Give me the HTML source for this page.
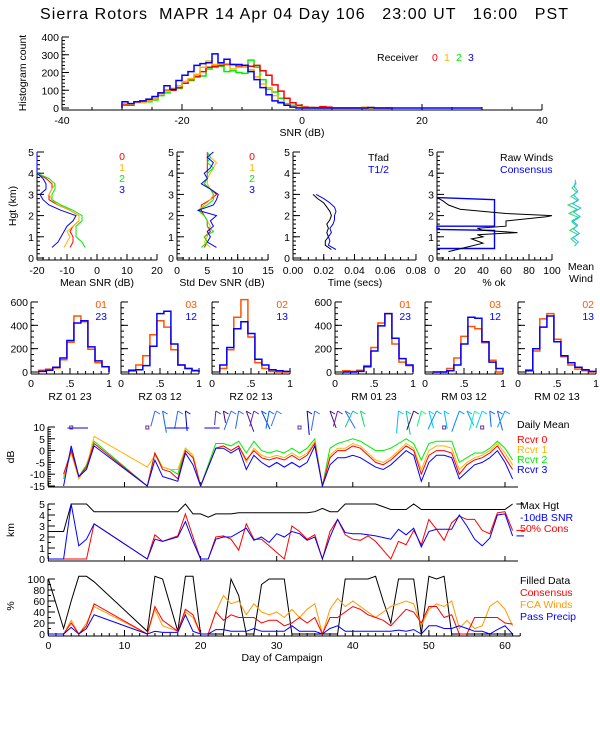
<!DOCTYPE html>
<html><head><meta charset="utf-8"><title>Sierra Rotors MAPR</title>
<style>
html,body{margin:0;padding:0;background:#fff;}
svg{display:block;font-family:"Liberation Sans",sans-serif;}
text{font-size:10.5px;}
</style></head>
<body>
<svg id="chart" width="600" height="750" viewBox="0 0 600 750" xmlns="http://www.w3.org/2000/svg">
<rect x="0" y="0" width="600" height="750" fill="#fff"/>
<text x="40" y="19" textLength="528" lengthAdjust="spacing" xml:space="preserve" style="font-size:16px">Sierra Rotors  MAPR 14 Apr 04 Day 106   23:00 UT   16:00   PST</text>
</svg>
<script>
// ---------- data: SNR histogram (bins -30..14 dB) ----------
const snrBins = [-30,-29,-28,-27,-26,-25,-24,-23,-22,-21,-20,-19,-18,-17,-16,-15,-14,-13,-12,-11,-10,-9,-8,-7,-6,-5,-4,-3,-2,-1,0,1,2,3,4,5,6,7,8,9,10,11,12,13,14];
const histR0 = [20,15,35,40,45,55,85,100,100,115,140,160,175,205,230,235,240,245,245,235,240,235,240,210,185,130,95,55,30,15,5,3,3,8,5,0,0,0,0,0,0,0,0,0,0];
const histR1 = [25,20,30,30,40,55,80,95,110,125,150,165,190,230,265,245,250,250,220,230,230,215,175,135,115,70,35,20,10,5,0,0,0,0,0,0,0,0,0,0,5,0,0,0,0];
const histR2 = [15,20,30,35,35,45,70,85,110,110,140,155,180,180,220,230,235,205,210,200,195,270,230,160,105,90,55,25,15,5,5,3,0,0,0,0,0,0,0,0,0,0,0,0,0];
const histR3 = [35,25,35,40,50,65,85,125,105,155,185,205,240,250,255,305,255,275,245,245,240,205,160,115,75,40,30,15,5,0,0,0,0,0,0,0,0,0,0,0,0,3,0,0,0];
const histTicks = [-40,-20,0,20,40];
const histYTicks = [0,100,200,300,400];

// ---------- data: profiles ----------
const profH = [0.5,0.75,1,1.25,1.5,1.75,2,2.25,2.5,2.75,3,3.25,3.5,3.75,4,4.25,4.5,4.75,5];
const snrMean0 = [-9,-8,-8,-9,-8,-6,-6,-9,-13,-16,-16,-15,-15,-17,-20,-20,-20,-20,-20];
const snrMean1 = [-11,-10,-9,-10,-8,-6,-6,-9,-13,-15,-16,-15,-14,-16,-20,-20,-20,-20,-20];
const snrMean2 = [-4,-5,-7,-7,-7,-5,-5,-8,-12,-15,-15,-14,-14,-16,-20,-20,-20,-20,-20];
const snrMean3 = [-15,-13,-12,-11,-10,-8,-7,-12,-16,-18,-19,-17,-17,-18,-20,-20,-20,-20,-20];
const snrStd0 = [4.5,5,4.5,5.5,5,5,4.5,4,4,5.5,6.5,5.5,4.5,5,5,5,5,5,5];
const snrStd1 = [5.5,4.5,5,5,5.5,5,4.5,3.5,4.5,5.5,6,5.5,5,5,5.5,6,6.5,5.5,5];
const snrStd2 = [4,5,4.5,6,5,5,4.5,3.5,5,6,6,5.5,4.5,5,5,6,5,5.5,5];
const snrStd3 = [6.5,5,5.5,5,6,5.5,6.5,3.5,6,6.5,6.8,5.5,4,5,4.5,5.5,6,5,6];
const timeH = [0.4,0.6,0.8,1.0,1.2,1.4,1.6,1.8,2.0,2.2,2.4,2.6,2.8,3.0];
const tfad = [0.025,0.021,0.021,0.023,0.022,0.023,0.022,0.024,0.025,0.024,0.022,0.020,0.016,0.013];
const thalf = [0.028,0.023,0.024,0.023,0.025,0.024,0.026,0.027,0.027,0.028,0.027,0.024,0.020,0.015];
const rawH = [0.3,0.5,0.7,0.9,1.0,1.1,1.2,1.3,1.4,1.5,1.75,1.95,2.0,2.1,2.3,2.5,2.7,2.85];
const rawOk = [10,25,40,30,40,35,70,40,35,60,60,95,100,60,20,10,5,0];
const consH = [0.45,0.45,1.3,1.35,1.5,1.5,2.75,2.85];
const consOk = [0,50,50,0,0,50,50,0];
const windH = [0.7,0.9,1.1,1.3,1.5,1.7,1.9,2.1,2.3,2.5,2.7,2.9,3.1,3.3,3.5,3.7];
const windU = [2,-3,4,-4,3,-2,5,-5,3,-6,4,-3,3,-2,2,1];

// ---------- data: ratio histograms (bins 0.1..1.0 width 0.09) ----------
const rBins = [0.1,0.19,0.28,0.37,0.46,0.55,0.64,0.73,0.82,0.91];
const rzA = [15,25,35,105,255,480,430,195,80,45];
const rzB = [5,15,40,120,270,420,440,215,95,45];
const rz03 = [20,60,140,320,440,385,190,60,30,15];
const rz12 = [10,20,55,220,500,520,240,60,30,10];
const rz02 = [30,190,470,620,300,80,30,5,0,0];
const rz13 = [60,210,370,430,330,110,60,20,10,5];
const rm01 = [10,5,15,55,210,420,500,240,85,55];
const rm23 = [0,0,5,45,180,395,500,290,115,60];
const rm03 = [0,0,30,120,305,390,370,250,100,0];
const rm12 = [0,0,10,60,240,470,460,260,85,30];
const rm02 = [20,180,455,500,280,130,60,25,10,0];
const rm13 = [10,200,385,480,260,140,80,40,20,5];

// ---------- data: campaign time series ----------
const snrDays = [2,3,4,5,6,13,14,15,16,17,18,19,20,22,23,24,25,26,27,28,29,30,31,32,33,34,35,36,37,38,39,40,41,42,43,44,45,46,47,48,49,50,51,52,53,54,55,56,57,58,59,60,61];
const dbR0 = [-10,0,-11,-7,3,-16,-1,-8,-9,-12,0,-3,-17,1,2,0,2,-4,0,-3,-4,-3,-4,-2,-4,-2,3,-17,-3,0,0,2,1,-2,-5,-6,-4,-1,2,0,-10,-2,0,0,-1,-10,-6,-4,-3,-1,2,-3,-8];
const dbR1 = [-11,-1,-12,-7,6,-7,-2,-7,-8,-8,1,-2,-17,1,2,0,2,-5,1,-2,-3,-2,-3,-1,-3,-1,4,-17,-2,1,1,3,2,-1,-4,-5,-3,0,3,1,-8,0,2,2,1,-8,-5,-3,-2,0,3,-1,-6];
const dbR2 = [-12,1,-11,-6,4,-16,-1,-7,-8,-10,1,-2,-17,3,3,2,4,-1,4,0,-1,0,-1,1,-1,1,5,-17,1,3,4,5,4,2,0,0,1,3,5,3,-4,3,4,4,4,-5,-3,-1,-1,1,4,1,-4];
const dbR3 = [-15,2,-11,-8,2,-16,-4,-11,-12,-13,-1,-6,-17,1,1,-1,1,-8,-2,-5,-7,-5,-7,-5,-7,-5,2,-17,-6,-3,-3,-2,-3,-5,-7,-8,-6,-3,0,-2,-13,-5,-2,-2,-3,-12,-9,-6,-5,-3,0,-5,-12];
const kmDays = [0,2,3,4,5,6,13,14,15,17,18,19,20,21,22,23,24,25,26,27,28,29,30,31,32,33,34,35,36,37,38,39,40,41,42,43,45,46,47,48,49,50,51,52,53,54,55,56,57,58,59,60,61];
const maxHgt = [2.5,2.5,5,5,5,4.3,4.3,4.3,4.3,4.3,5,4.1,4.1,3.8,4.1,4.1,4.1,4.2,4.2,4.2,4.2,4.2,4.2,4.2,4.2,4.2,4.2,4.3,4.6,4.3,4.3,5,5,5,5,5,4.5,4.5,4.5,5,4.5,4.5,4.5,4.5,4.5,4.5,4.5,4.5,4.5,4.5,4.5,4.5,5];
const snr10Hgt = [0,0,5,1.2,1.8,3.2,0,1.8,1.6,2,3.4,1.6,0,0,1.8,2,2,2.4,2.8,1.7,2,1.5,2.3,2,2.5,2.3,1.7,2,0,2,3.6,2.4,2.3,2.3,2.2,2.1,1.8,2.7,2.2,2.8,1.1,2.5,2.7,2.7,2.7,4,3,1.8,1.2,1.9,4,4.1,2.1];
const consHgt = [0,0,0,0,0,3.2,0,2.2,1.6,2.1,4.1,2,0,0,2,2.1,1.8,0.8,3.2,1.8,1.8,1.2,0.6,0,3,2.5,1.8,2.2,0,2.5,3.6,2.2,1.8,1.7,2.1,1.6,0,1.6,1.3,2.6,1.3,3.6,2.7,1.7,3.3,3.9,3.6,3.6,2.6,2.3,4.2,4.3,2.6];
const pctDays = [0,2,3,4,5,6,13,14,15,17,18,19,20,21,22,23,24,25,26,27,28,29,30,31,32,33,34,35,36,37,38,39,40,41,42,43,44,45,46,47,48,49,50,51,52,53,54,55,56,57,58,59,60,61];
const filledPct = [100,10,60,105,105,95,5,105,100,5,105,105,0,0,0,0,100,70,0,0,90,100,100,100,0,0,0,0,0,0,0,100,100,100,100,105,60,20,100,100,100,0,105,100,105,0,0,0,0,0,0,0,0,0];
const consPct = [0,0,20,0,15,55,0,50,25,5,45,35,0,0,40,25,35,30,30,30,20,25,25,15,20,30,20,30,0,30,30,40,50,45,35,30,25,15,30,45,40,20,50,50,30,35,0,0,30,30,30,30,20,18];
const fcaPct = [0,0,25,0,20,50,0,45,15,5,40,30,0,0,40,70,55,60,35,55,40,35,40,30,45,30,45,55,0,45,65,50,60,50,40,30,40,50,55,60,55,15,45,55,50,60,10,25,10,15,50,60,45,15];
const precipPct = [0,0,12,0,10,35,0,5,3,3,35,5,0,0,8,8,5,5,5,10,5,5,5,5,15,5,5,5,0,10,15,5,5,5,5,5,5,5,7,5,8,0,15,15,10,10,15,10,5,5,0,8,15,0];
const barbDays = [14,15,17,18,22,23,24,25,26,27,28,29,30,34,35,37,38,39,40,41,46,47,48,49,50,51,52,54,55,56,57,58,59,60];
const barbDir = [-15,10,-10,5,-5,10,-20,-10,20,-15,25,-10,-20,5,-10,20,-15,30,-25,15,-5,10,-20,-15,15,-25,10,-20,25,-15,-20,5,15,-25];
const barbLen = [16,22,18,20,14,12,20,18,22,16,20,18,16,24,20,18,16,20,18,16,22,24,20,16,18,20,18,22,16,20,18,16,20,18];
const barbColor = ["#3366ff","#0066ff","#3366ff","#0000cc","#3333cc","#440066","#3366ff","#2266ff","#441188","#6622aa","#0044ff","#0066ff","#3377ff","#0000cc","#3366ff","#441188","#662299","#3366ff","#00cc88","#00dd66","#00bbff","#00cc99","#440066","#00ff66","#00ccff","#0099ff","#00bbff","#0088ff","#00aaff","#00ff99","#00ccff","#0066ff","#2255ff","#00aaff"];
const dayTicks = [0,10,20,30,40,50,60];

const svg = document.getElementById('chart');
const NS = 'http://www.w3.org/2000/svg';
function mk(tag, attrs){ const e=document.createElementNS(NS,tag); for(const k in attrs) e.setAttribute(k,attrs[k]); svg.appendChild(e); return e; }
function txt(x,y,s,fill,anchor,name,extra){
  const t=mk('text',Object.assign({x:x,y:y,fill:fill||'#000','text-anchor':anchor||'start'},extra||{}));
  t.textContent=s;
  
  
  return t;
}
function ln(x1,y1,x2,y2,c,name,w){
  const l=mk('line',{x1:x1,y1:y1,x2:x2,y2:y2,stroke:c||'#000','stroke-width':w||1});
  
  
  return l;
}
function poly(pts,c,name,w){
  const p=mk('polyline',{points:pts.map(q=>q[0].toFixed(1)+','+q[1].toFixed(1)).join(' '),fill:'none',stroke:c,'stroke-width':w||1.2,'stroke-linejoin':'miter'});
  
  
  return p;
}
function stepHist(edges,width,vals,xs,ys,c,name,w){
  let d='M'+xs(edges[0]).toFixed(1)+','+ys(0).toFixed(1);
  for(let i=0;i<vals.length;i++){
    d+=' V'+ys(vals[i]).toFixed(1)+' H'+xs(edges[i]+width).toFixed(1);
  }
  d+=' V'+ys(0).toFixed(1);
  const p=mk('path',{d:d,fill:'none',stroke:c,'stroke-width':w||1.5});
  
  
  return p;
}
function yAxis(x,ys,ticks,labels,minorStep,lo,hi,name){
  ln(x,ys(lo),x,ys(hi),'#000',name+'-line');
  if(minorStep){ for(let v=lo; v<=hi+1e-9; v+=minorStep){ ln(x,ys(v),x+3,ys(v),'#000',name+'-minor-tick'); } }
  ticks.forEach((v,i)=>{ ln(x,ys(v),x+7,ys(v),'#000',name+'-tick'); if(labels) txt(x-3,ys(v)+4,labels[i],'#000','end',name+'-label'); });
}
function xAxis(y,xs,ticks,labels,minorStep,lo,hi,name,labY){
  ln(xs(lo),y,xs(hi),y,'#000',name+'-line');
  if(minorStep){ for(let v=lo; v<=hi+1e-9; v+=minorStep){ ln(xs(v),y,xs(v),y-3,'#000',name+'-minor-tick'); } }
  ticks.forEach((v,i)=>{ ln(xs(v),y,xs(v),y-6,'#000',name+'-tick'); if(labels) txt(xs(v),labY,labels[i],'#000','middle',name+'-label'); });
}
const COL = {r:'#ff0000',o:'#ffb400',g:'#00ee00',b:'#0000ff'};

// ---------- SNR histogram ----------
(function(){
  const xs=v=>62+(v+40)*6, ys=c=>108-c*71/400;
  xAxis(110,xs,histTicks,histTicks.map(String),5,-40,40,'snr-x-axis',124);
  yAxis(62,ys,histYTicks,histYTicks.map(String),20,0,400,'count-y-axis');
  ln(xs(14),ys(0),xs(30),ys(0),COL.b,'blue-hist-baseline',1.5);
  stepHist(snrBins,1,histR2,xs,ys,COL.g,'hist-rcvr-2');
  stepHist(snrBins,1,histR0,xs,ys,COL.r,'hist-rcvr-0');
  stepHist(snrBins,1,histR1,xs,ys,COL.o,'hist-rcvr-1');
  stepHist(snrBins,1,histR3,xs,ys,COL.b,'hist-rcvr-3');
  txt(302,136,'SNR (dB)','#000','middle','snr-x-title');
  txt(26,73,'Histogram count','#000','middle','count-y-title',{transform:'rotate(-90 26 73)'});
  txt(377,61,'Receiver','#000','start','receiver-legend-title');
  txt(432,61,'0',COL.r,'start','legend-rcvr-0');
  txt(444,61,'1',COL.o,'start','legend-rcvr-1');
  txt(456,61,'2',COL.g,'start','legend-rcvr-2');
  txt(468,61,'3',COL.b,'start','legend-rcvr-3');
})();

// ---------- profile panels ----------
const ph = h=>258-h*21.2;
function hAxis(x,labels,name){ yAxis(x,ph,[0,1,2,3,4,5],labels?['0','1','2','3','4','5']:null,0.2,0,5,name); }
(function(){
  const xa=v=>37+(v+20)*3;
  hAxis(37,true,'mean-snr-hgt-axis');
  xAxis(260,xa,[-20,-10,0,10,20],['-20','-10','0','10','20'],2,-20,20,'mean-snr-x-axis',274);
  [[snrMean0,COL.r],[snrMean1,COL.o],[snrMean2,COL.g],[snrMean3,COL.b]].forEach((s,k)=>poly(profH.map((h,i)=>[xa(s[0][i]),ph(h)]),s[1],'mean-snr-rcvr-'+k,1));
  txt(97,286,'Mean SNR (dB)','#000','middle','mean-snr-x-title');
  txt(16,206,'Hgt (km)','#000','middle','hgt-y-title',{transform:'rotate(-90 16 206)'});
  ['0','1','2','3'].forEach((s,k)=>txt(122,160+k*11,s,[COL.r,COL.o,COL.g,COL.b][k],'middle','mean-snr-legend-'+s));
  const xb=v=>177+v*6.07;
  hAxis(177,true,'std-snr-hgt-axis');
  xAxis(260,xb,[0,5,10,15],['0','5','10','15'],1,0,15,'std-snr-x-axis',274);
  [[snrStd0,COL.r],[snrStd1,COL.o],[snrStd2,COL.g],[snrStd3,COL.b]].forEach((s,k)=>poly(profH.map((h,i)=>[xb(s[0][i]),ph(h)]),s[1],'std-snr-rcvr-'+k,1));
  txt(222,286,'Std Dev SNR (dB)','#000','middle','std-snr-x-title');
  ['0','1','2','3'].forEach((s,k)=>txt(252,160+k*11,s,[COL.r,COL.o,COL.g,COL.b][k],'middle','std-snr-legend-'+s));
  const xc=v=>293+v*1537;
  hAxis(293,true,'time-hgt-axis');
  xAxis(260,xc,[0,0.02,0.04,0.06,0.08],['0.00','0.02','0.04','0.06','0.08'],0.005,0,0.08,'time-x-axis',274);
  poly(timeH.map((h,i)=>[xc(tfad[i]),ph(h)]),'#000','tfad-line',1);
  poly(timeH.map((h,i)=>[xc(thalf[i]),ph(h)]),COL.b,'thalf-line',1);
  txt(355,286,'Time (secs)','#000','middle','time-x-title');
  txt(368,161,'Tfad','#000','start','tfad-legend');
  txt(368,173,'T1/2',COL.b,'start','thalf-legend');
  const xd=v=>437+v*1.15;
  hAxis(437,true,'pctok-hgt-axis');
  xAxis(260,xd,[0,20,40,60,80,100],['0','20','40','60','80','100'],5,0,100,'pctok-x-axis',274);
  poly(consH.map((h,i)=>[xd(consOk[i]),ph(h)]),COL.b,'consensus-ok-line',1.4);
  poly(rawH.map((h,i)=>[xd(rawOk[i]),ph(h)]),'#000','raw-winds-ok-line',1);
  txt(494,286,'% ok','#000','middle','pctok-x-title');
  txt(500,161,'Raw Winds','#000','start','raw-winds-legend');
  txt(500,173,'Consensus',COL.b,'start','consensus-legend');
  poly(windH.map((h,i)=>[574+windU[i],ph(h)]),'#22dd66','mean-wind-profile-a',1);
  poly(windH.map((h,i)=>[576-windU[i]*0.8,ph(h)+3]),'#22bbee','mean-wind-profile-b',1);
  txt(581,270,'Mean','#000','middle','mean-wind-title-1');
  txt(581,282,'Wind','#000','middle','mean-wind-title-2');
})();

// ---------- ratio histogram panels ----------
(function(){
  const panels=[[31,rzA,rzB,'01','23','RZ  01 23',true],[121,rz03,rz12,'03','12','RZ  03 12',false],[212,rz02,rz13,'02','13','RZ  02 13',false],
                [335,rm01,rm23,'01','23','RM  01 23',true],[425,rm03,rm12,'03','12','RM  03 12',false],[518,rm02,rm13,'02','13','RM  02 13',false]];
  const ys=c=>372-c*0.1167;
  panels.forEach((p,k)=>{
    const x0=p[0], xs=v=>x0+v*78;
    const nm='ratio-panel-'+(k+1);
    yAxis(x0,ys,[0,200,400,600],p[6]?['0','200','400','600']:null,50,0,600,nm+'-y-axis');
    xAxis(374,xs,[0,0.5,1],['0','.5','1'],0.1,0,1,nm+'-x-axis',387);
    stepHist(rBins,0.09,p[1],xs,ys,'#ff5500',nm+'-orange-hist');
    stepHist(rBins,0.09,p[2],xs,ys,COL.b,nm+'-blue-hist');
    txt(x0+76,308,p[3],'#ff5500','end',nm+'-legend-orange');
    txt(x0+76,320,p[4],COL.b,'end',nm+'-legend-blue');
    txt(x0+39,400,p[5],'#000','middle',nm+'-title',{'xml:space':'preserve'});
  });
})();

// ---------- campaign time series ----------
(function(){
  const xd=d=>48.4+d*7.61;
  const clamp=(v,a,b)=>Math.max(a,Math.min(b,v));
  const ydb=v=>427+(10-clamp(v,-15,10))*59/25;
  yAxis(48,ydb,[-15,-10,-5,0,5,10],['-15','-10','-5','0','5','10'],1,-15,10,'db-y-axis');
  ln(48,487,518,487,'#000','db-x-axis-line');
  dayTicks.forEach(d=>ln(xd(d),487,xd(d),482,'#000','db-x-tick'));
  [[dbR2,COL.g],[dbR1,COL.o],[dbR0,COL.r],[dbR3,COL.b]].forEach((s,k)=>poly(snrDays.map((d,i)=>[xd(d),ydb(s[0][i])]),s[1],'daily-snr-series-'+k,1));
  txt(14,457,'dB','#000','middle','db-y-title',{transform:'rotate(-90 14 457)'});
  txt(517,428,'Daily Mean','#000','start','daily-mean-legend');
  txt(517,443,'Rcvr 0',COL.r,'start','legend-rcvr0');
  txt(517,453,'Rcvr 1',COL.o,'start','legend-rcvr1');
  txt(517,463,'Rcvr 2',COL.g,'start','legend-rcvr2');
  txt(517,473,'Rcvr 3',COL.b,'start','legend-rcvr3');
  // wind barbs (staff hangs down from top)
  barbDays.forEach((d,i)=>{
    const a=barbDir[i]*Math.PI/180, x=xd(d), y=411;
    const x2=x+Math.sin(a)*barbLen[i], y2=y+Math.cos(a)*barbLen[i];
    ln(x,y,x2,y2,barbColor[i],'wind-barb',1);
    ln(x,y,x+5,y+3,barbColor[i],'wind-barb-flag',1);
  });
  ln(xd(2.5),428,xd(5.2),428,COL.b,'wind-barb-day3',1);
  ln(xd(15.5),428,xd(18.5),428,COL.b,'wind-barb-day17',1);
  ln(xd(20.5),428,xd(22.5),428,COL.b,'wind-barb-day21',1);
  [3,13,33,52,57].forEach(d=>{ const r=mk('rect',{x:xd(d)-1.5,y:426,width:3,height:3,fill:'none',stroke:'#663399','stroke-width':1});
    
     });
  // km panel
  const yk=v=>559-v*11;
  yAxis(48,yk,[0,1,2,3,4,5],['0','1','2','3','4','5'],0.5,0,5,'km-y-axis');
  ln(48,561,518,561,'#000','km-x-axis-line');
  dayTicks.forEach(d=>ln(xd(d),561,xd(d),556,'#000','km-x-tick'));
  poly(kmDays.map((d,i)=>[xd(d),yk(maxHgt[i])]),'#000','max-hgt-series',1);
  poly(kmDays.map((d,i)=>[xd(d),yk(consHgt[i])]),COL.r,'cons50-hgt-series',1);
  poly(kmDays.map((d,i)=>[xd(d),yk(snr10Hgt[i])]),COL.b,'snr10-hgt-series',1);
  ln(xd(61.5),yk(5),xd(62.5),yk(5),'#000','max-hgt-end-mark');
  ln(xd(61.5),yk(2.6),xd(62.5),yk(2.6),COL.r,'cons-end-mark');
  ln(xd(61.5),yk(2.1),xd(62.5),yk(2.1),COL.b,'snr10-end-mark');
  txt(14,530,'km','#000','middle','km-y-title',{transform:'rotate(-90 14 530)'});
  txt(520,509,'Max Hgt','#000','start','max-hgt-legend');
  txt(520,521,'-10dB SNR',COL.b,'start','snr10-legend');
  txt(520,532,'50% Cons',COL.r,'start','cons50-legend');
  // % panel
  const yp=v=>634-v*0.55;
  yAxis(48,yp,[0,20,40,60,80,100],['0','20','40','60','80','100'],10,0,100,'pct-y-axis');
  xAxis(636,xd,dayTicks,dayTicks.map(String),1,0,62,'day-x-axis',649);
  poly(pctDays.map((d,i)=>[xd(d),yp(filledPct[i])]),'#000','filled-data-series',1);
  poly(pctDays.map((d,i)=>[xd(d),yp(fcaPct[i])]),'#ff9900','fca-winds-series',1);
  poly(pctDays.map((d,i)=>[xd(d),yp(consPct[i])]),COL.r,'consensus-pct-series',1);
  poly(pctDays.map((d,i)=>[xd(d),yp(precipPct[i])]),COL.b,'pass-precip-series',1);
  txt(14,606,'%','#000','middle','pct-y-title',{transform:'rotate(-90 14 606)'});
  txt(520,584,'Filled Data','#000','start','filled-data-legend');
  txt(520,596,'Consensus',COL.r,'start','consensus-pct-legend');
  txt(520,608,'FCA Winds','#ff9900','start','fca-winds-legend');
  txt(520,620,'Pass Precip',COL.b,'start','pass-precip-legend');
  txt(282,661,'Day of Campaign','#000','middle','day-x-title');
})();
</script>
</body></html>
